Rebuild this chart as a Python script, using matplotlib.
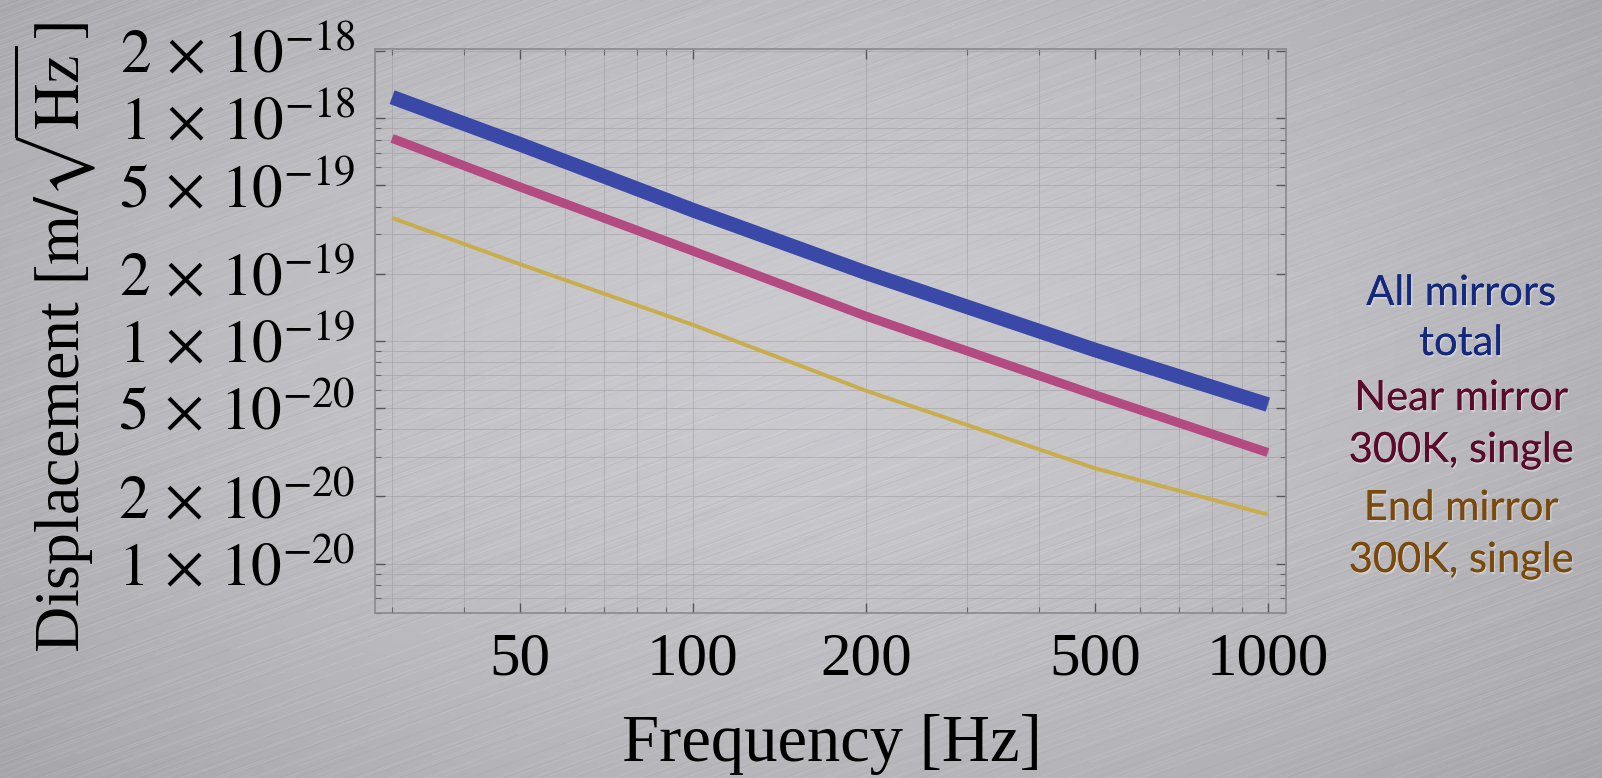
import matplotlib
matplotlib.use('Agg')
import matplotlib.pyplot as plt
import matplotlib.patheffects as pe
from matplotlib.collections import LineCollection
from matplotlib.ticker import FixedLocator, NullFormatter, FixedFormatter
import numpy as np

# --- data ---
freq_hz = [30, 50, 100, 200, 500, 1000]
all_mirrors_total = [1.24e-18, 7.63e-19, 3.86e-19, 2.02e-19, 9.1e-20, 5.17e-20]
near_mirror_300k = [8.1e-19, 4.91e-19, 2.53e-19, 1.29e-19, 5.72e-20, 3.15e-20]
end_mirror_300k = [3.56e-19, 2.21e-19, 1.18e-19, 5.97e-20, 2.68e-20, 1.66e-20]

x_ticks = [50, 100, 200, 500, 1000]
x_tick_labels = ['50', '100', '200', '500', '1000']
y_ticks = [1e-20, 2e-20, 5e-20, 1e-19, 2e-19, 5e-19, 1e-18, 2e-18]
y_tick_labels = [r'$1\,\times\,10^{-20}$', r'$2\,\times\,10^{-20}$', r'$5\,\times\,10^{-20}$',
                 r'$1\,\times\,10^{-19}$', r'$2\,\times\,10^{-19}$', r'$5\,\times\,10^{-19}$',
                 r'$1\,\times\,10^{-18}$', r'$2\,\times\,10^{-18}$']

legend_lines = ['All mirrors', 'total', 'Near mirror', '300K, single', 'End mirror', '300K, single']
legend_colors = ['#14297e', '#14297e', '#5a0a2a', '#5a0a2a', '#7a4a0c', '#7a4a0c']

plt.rcParams['mathtext.fontset'] = 'stix'
plt.rcParams['font.family'] = ['Liberation Serif', 'DejaVu Serif']

fig = plt.figure(figsize=(16.02, 7.78), dpi=100)

# --- brushed metal background ---
bg = fig.add_axes([0, 0, 1, 1], zorder=0)
bg.set_xlim(0, 1)
bg.set_ylim(0, 1)
bg.axis('off')
gx, gy = np.meshgrid(np.linspace(0, 1, 400), np.linspace(0, 1, 200))
d = np.sqrt(((gx - 0.5) / 0.75) ** 2 + ((gy - 0.55) / 0.9) ** 2)
shade = 0.80 - 0.17 * np.clip(d, 0, 1) ** 1.5
rgb = np.dstack([shade * 0.995, shade * 0.99, shade * 1.015])
bg.imshow(np.clip(rgb, 0, 1), extent=[0, 1, 0, 1], origin='lower', aspect='auto')

segs, cols = [], []
n = 1600
for i in range(n):
    t = (i * 0.61803398875) % 1.0
    x0 = ((i * 0.41421356) % 1.0) * 1.4 - 0.4
    y0 = t * 1.5 - 0.4
    length = 0.08 + 0.30 * ((i * 0.7320508) % 1.0)
    x1 = x0 + length
    y1 = y0 + length * 0.75
    segs.append([(x0, y0), (x1, y1)])
    a = 0.06 + 0.10 * ((i * 0.2360679) % 1.0)
    if i % 3 == 0:
        cols.append((0.38, 0.38, 0.42, a * 0.6))
    else:
        cols.append((1.0, 1.0, 1.0, a))
bg.add_collection(LineCollection(segs, colors=cols, linewidths=0.6))

# --- main plot ---
ax = fig.add_axes([0.234, 0.2121, 0.5687, 0.7249], zorder=1)
ax.patch.set_alpha(0.0)
ax.set_xscale('log')
ax.set_yscale('log')
ax.set_xlim(28.0, 1075)
ax.set_ylim(6.0e-21, 2.04e-18)

ax.plot(freq_hz, all_mirrors_total, color='#3a48a8', lw=10.5, solid_capstyle='butt', zorder=3)
ax.plot(freq_hz, near_mirror_300k, color='#b44a82', lw=6.5, solid_capstyle='butt', zorder=3)
ax.plot(freq_hz, end_mirror_300k, color='#c8ad4a', lw=2.8, solid_capstyle='butt', zorder=3)

minor_x = [30, 40, 60, 70, 80, 90, 300, 400, 600, 700, 800, 900]
ax.xaxis.set_major_locator(FixedLocator(x_ticks))
ax.xaxis.set_major_formatter(FixedFormatter(x_tick_labels))
ax.xaxis.set_minor_locator(FixedLocator(minor_x))
ax.xaxis.set_minor_formatter(NullFormatter())
ax.yaxis.set_major_locator(FixedLocator(y_ticks))
ax.yaxis.set_major_formatter(FixedFormatter(y_tick_labels))
minor_y = [m * 10.0 ** e for e in (-21, -20, -19, -18) for m in (3, 4, 6, 7, 8, 9)]
ax.yaxis.set_minor_locator(FixedLocator(minor_y))
ax.yaxis.set_minor_formatter(NullFormatter())

ax.grid(True, which='both', color='#9a999e', lw=0.7, alpha=0.5)
for s in ax.spines.values():
    s.set_color('#8a898e')
    s.set_linewidth(1.2)
ax.tick_params(which='major', direction='in', length=7, width=1, color='#555',
               top=True, right=True, labelsize=44, pad=14)
ax.tick_params(which='minor', direction='in', length=4, width=0.8, color='#666',
               top=True, right=True)

ax.set_xlabel('Frequency [Hz]', fontsize=48, va='center')
ax.xaxis.set_label_coords(0.502, -0.234)
ax.set_ylabel(r'Displacement $[\mathrm{m}/\sqrt{\mathrm{Hz}}\,]$', fontsize=46, va='center')
ax.yaxis.set_label_coords(-0.352, 0.489)

# --- side labels ---
ys = [293, 343, 398, 450, 508, 560]
glow = [pe.withSimplePatchShadow(offset=(1, -1.5), shadow_rgbFace='white', alpha=0.35), pe.Normal()]
for txt, c, yp in zip(legend_lines, legend_colors, ys):
    fig.text(1461 / 1602, 1 - yp / 778, txt, color=c, fontsize=30, ha='center', va='center',
             family=['Lato', 'DejaVu Sans'], path_effects=glow)

fig.savefig('out.png', dpi=100)
